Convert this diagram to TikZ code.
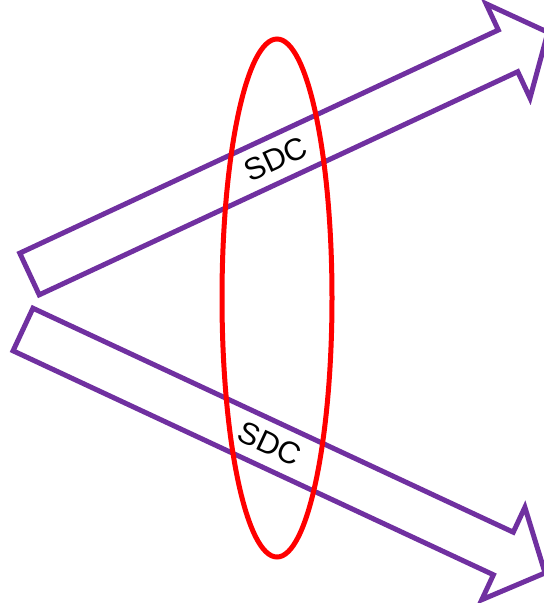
\documentclass[tikz,border=0pt]{standalone}
\usepackage{fontspec}
\setmainfont{Liberation Sans}
\definecolor{arrowpurple}{HTML}{7030A0}
\definecolor{ringred}{HTML}{FF0000}
\tikzset{
  arrowoutline/.style={draw=arrowpurple, line width=5pt, fill=white, line join=miter},
  ringline/.style={draw=ringred, line width=5pt},
  sdclabel/.style={font=\fontsize{31}{34}\selectfont, text=black, transform shape, inner sep=0pt}
}
\begin{document}
\begin{tikzpicture}[x=1pt,y=-1pt]
\useasboundingbox (0,0) rectangle (544,603);
\begin{scope}[shift={(29.5,274)}, rotate=25]
  \draw[arrowoutline] (0,-23) -- (528,-23) -- (528,-52) -- (572,0) -- (528,52) -- (528,23) -- (0,23) -- cycle;
  \node[sdclabel] (sdctop) at (272,0) {SDC};
\end{scope}
\begin{scope}[shift={(23,329.5)}, rotate=-25]
  \draw[arrowoutline] (0,-23.5) -- (530,-23.5) -- (530,-51) -- (576,0) -- (530,51) -- (530,23.5) -- (0,23.5) -- cycle;
  \node[sdclabel] (sdcbottom) at (272,-1) {SDC};
\end{scope}
\draw[ringline] (277,298) ellipse [x radius=55, y radius=259];
\end{tikzpicture}
\end{document}
